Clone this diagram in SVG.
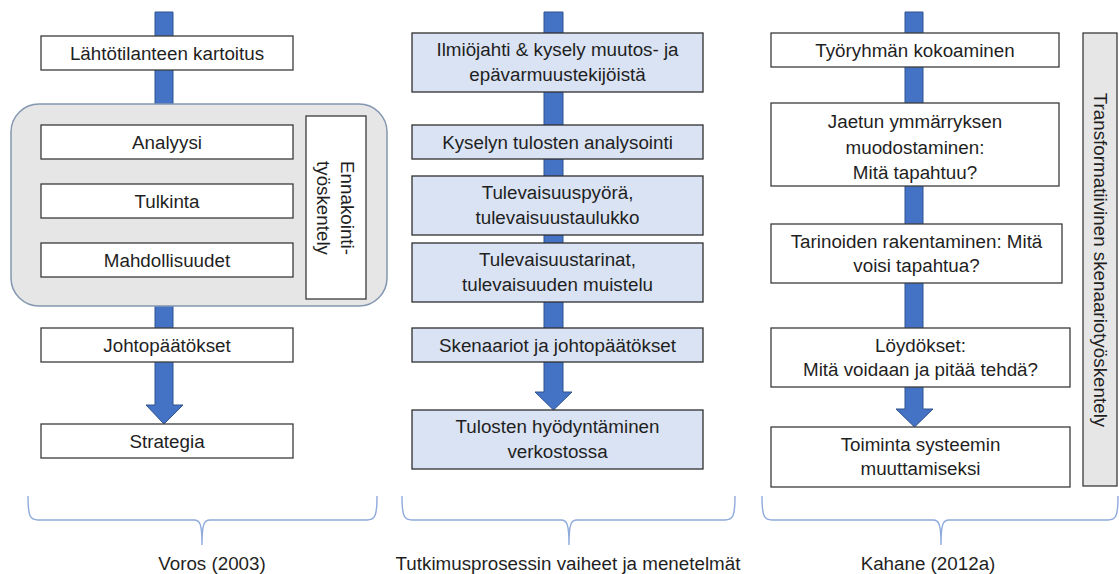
<svg xmlns="http://www.w3.org/2000/svg" width="1119" height="574" viewBox="0 0 1119 574">
<style>
text{font-family:"Liberation Sans",Arial,sans-serif;font-size:18.8px;fill:#1f1f1f;text-anchor:middle}
.box{fill:#fff;stroke:#3b3b3b;stroke-width:1.3}
.bbox{fill:#dae3f3;stroke:#2e2e2e;stroke-width:1.3}
.gbox{fill:#e7e6e6;stroke:#3b3b3b;stroke-width:1.3}
.arrow{fill:#4472c4;stroke:#2f528f;stroke-width:1}
.brace{fill:none;stroke:#8faadc;stroke-width:1.4}
</style>
<rect width="1119" height="574" fill="#fff"/>
<g id="connectors">
<path class="arrow" d="M155,12H173V405H183L164,424L146,405H155Z"/>
<path class="arrow" d="M544,12H563V392H572L553.5,410L535,392H544Z"/>
<path class="arrow" d="M905,12H923V409H933L914.5,427L896,409H905Z"/>
</g>
<g id="voros-group">
<rect x="11" y="104" width="376" height="202" rx="28" fill="#e7e6e6" stroke="#8497b0" stroke-width="1.5"/>
</g>
<g id="n-lahto"><rect class="box" x="41" y="36" width="252" height="34"/><text x="167" y="59.5">Lähtötilanteen kartoitus</text></g>
<g id="n-analyysi"><rect class="box" x="41" y="125" width="252" height="34"/><text x="167" y="148.5">Analyysi</text></g>
<g id="n-tulkinta"><rect class="box" x="41" y="184" width="252" height="34"/><text x="167" y="207.5">Tulkinta</text></g>
<g id="n-mahd"><rect class="box" x="41" y="243" width="252" height="34"/><text x="167" y="266.5">Mahdollisuudet</text></g>
<g id="n-ennakointi"><rect class="box" x="306" y="116" width="60" height="183"/>
<text transform="translate(336,208) rotate(90)"><tspan x="0" y="-5">Ennakointi-</tspan><tspan x="0" y="19">työskentely</tspan></text></g>
<g id="n-johto"><rect class="box" x="41" y="328" width="252" height="34"/><text x="167" y="351.5">Johtopäätökset</text></g>
<g id="n-strategia"><rect class="box" x="41" y="424" width="252" height="34"/><text x="167" y="447.5">Strategia</text></g>

<g id="m-ilmio"><rect class="bbox" x="412" y="33" width="291" height="59"/><text x="557.5" y="56">Ilmiöjahti &amp; kysely muutos- ja</text><text x="557.5" y="81">epävarmuustekijöistä</text></g>
<g id="m-kysely"><rect class="bbox" x="412" y="125" width="291" height="34"/><text x="557.5" y="148.5">Kyselyn tulosten analysointi</text></g>
<g id="m-pyora"><rect class="bbox" x="412" y="176" width="291" height="59"/><text x="557.5" y="199">Tulevaisuuspyörä,</text><text x="557.5" y="224">tulevaisuustaulukko</text></g>
<g id="m-tarinat"><rect class="bbox" x="412" y="243" width="291" height="59"/><text x="557.5" y="266">Tulevaisuustarinat,</text><text x="557.5" y="291">tulevaisuuden muistelu</text></g>
<g id="m-skenaariot"><rect class="bbox" x="412" y="328" width="291" height="34"/><text x="557.5" y="351.5">Skenaariot ja johtopäätökset</text></g>
<g id="m-tulosten"><rect class="bbox" x="412" y="410" width="291" height="59"/><text x="557.5" y="433">Tulosten hyödyntäminen</text><text x="557.5" y="458">verkostossa</text></g>

<g id="k-tyoryhma"><rect class="box" x="771" y="33" width="288" height="34"/><text x="915" y="56.5">Työryhmän kokoaminen</text></g>
<g id="k-jaetun"><rect class="box" x="771" y="103" width="288" height="83"/><text x="915" y="128">Jaetun ymmärryksen</text><text x="915" y="154">muodostaminen:</text><text x="915" y="179">Mitä tapahtuu?</text></g>
<g id="k-tarinoiden"><rect class="box" x="771" y="224" width="291" height="59"/><text x="916.5" y="248">Tarinoiden rakentaminen: Mitä</text><text x="916.5" y="272">voisi tapahtua?</text></g>
<g id="k-loydokset"><rect class="box" x="771" y="328" width="299" height="59"/><text x="920.5" y="352">Löydökset:</text><text x="920.5" y="376">Mitä voidaan ja pitää tehdä?</text></g>
<g id="k-toiminta"><rect class="box" x="771" y="427" width="299" height="60"/><text x="920.5" y="451">Toiminta systeemin</text><text x="920.5" y="475">muuttamiseksi</text></g>
<g id="k-transform"><rect class="gbox" x="1083" y="33" width="34" height="453"/><text transform="translate(1094,260) rotate(90)" x="0" y="0">Transformatiivinen skenaariotyöskentely</text></g>

<g id="braces">
<path class="brace" d="M28,496C28,516 30,520 38,520L194,520C200,520 202,524 202,545C202,524 204,520 210,520L367,520C375,520 377,516 377,496"/>
<path class="brace" d="M402,496C402,516 404,520 412,520L561,520C567,520 569,524 569,545C569,524 571,520 577,520L725,520C733,520 735,516 735,496"/>
<path class="brace" d="M762,496C762,516 764,520 772,520L933,520C939,520 941,524 941,545C941,524 943,520 949,520L1108,520C1116,520 1118,516 1118,496"/>
</g>
<g id="labels">
<text x="212" y="570">Voros (2003)</text>
<text x="568" y="570">Tutkimusprosessin vaiheet ja menetelmät</text>
<text x="928" y="570">Kahane (2012a)</text>
</g>
</svg>
